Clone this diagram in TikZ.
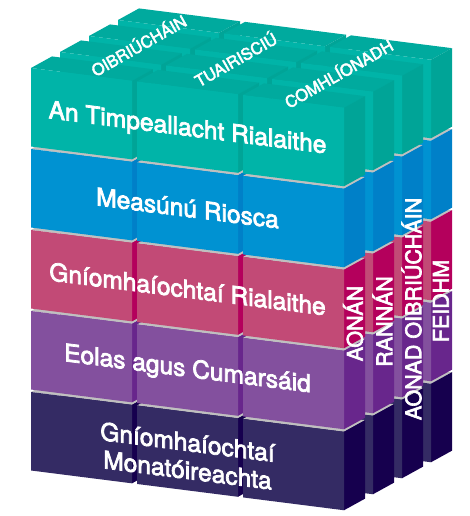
\documentclass[tikz,border=0pt]{standalone}
\usepackage{fontspec}
\setmainfont{TeX Gyre Heros}
\newfontfamily\labfont{TeX Gyre Heros}[FakeBold=3]
\definecolor{tealF}{RGB}{0,180,168}
\definecolor{tealS}{RGB}{0,164,151}
\definecolor{tealT}{RGB}{0,170,158}
\definecolor{blueF}{RGB}{0,146,210}
\definecolor{blueS}{RGB}{0,128,200}
\definecolor{pinkF}{RGB}{194,74,118}
\definecolor{pinkS}{RGB}{180,0,92}
\definecolor{purF}{RGB}{131,80,158}
\definecolor{purS}{RGB}{104,38,140}
\definecolor{navyF}{RGB}{52,43,100}
\definecolor{navyS}{RGB}{22,0,78}
\definecolor{greyT}{RGB}{192,192,192}
\begin{document}
\begin{tikzpicture}[
  frontlab/.style={text=white, font=\labfont\fontsize{24.5}{28}\selectfont, inner sep=0pt, yslant=-0.127},
  toplab/.style={text=white, font=\labfont\fontsize{16.2}{19}\selectfont, inner sep=0pt, text height=11.6pt, text depth=0pt, rotate=29.5},
  sidelab/.style={text=white, font=\labfont\fontsize{21.5}{25}\selectfont, inner sep=0pt, text height=15.4pt, text depth=0pt, rotate=90},
]
\path[use as bounding box] (0pt,0pt) rectangle (469pt,-516pt);
\begin{scope}[shift={(31pt,-68pt)}, x={(1pt,-0.127pt)}, y={(0pt,-1pt)}, z={(29pt,16pt)}]
\foreach \s in {3,2,1,0} {
  \foreach \r/\fc/\sc/\tc in {4/navyF/navyS/greyT, 3/purF/purS/greyT, 2/pinkF/pinkS/greyT, 1/blueF/blueS/greyT, 0/tealF/tealS/tealT} {
    \foreach \c in {0,1,2} {
      \pgfmathsetmacro\ua{106*\c}
      \pgfmathsetmacro\ub{106*\c+101}
      \pgfmathsetmacro\va{81*\r}
      \pgfmathsetmacro\vb{81*\r+78.5}
      \pgfmathsetmacro\wa{\s}
      \pgfmathsetmacro\wb{\s+0.724}
      \fill[\tc] (\ua,\va,\wa) -- (\ub,\va,\wa) -- (\ub,\va,\wb) -- (\ua,\va,\wb) -- cycle;
      \fill[\sc] (\ub,\va,\wa) -- (\ub,\va,\wb) -- (\ub,\vb,\wb) -- (\ub,\vb,\wa) -- cycle;
      \fill[\fc] (\ua,\va,\wa) -- (\ub,\va,\wa) -- (\ub,\vb,\wa) -- (\ua,\vb,\wa) -- cycle;
    }
  }
}
\end{scope}
% front labels
\node[frontlab, text height=17.5pt, text depth=0pt] (envtxt) at (187.5pt,-127.1pt) {An Timpeallacht Rialaithe};
\node[frontlab, text height=17.5pt, text depth=0pt] (risktxt) at (187.5pt,-208.1pt) {Measúnú Riosca};
\node[frontlab, text height=17.5pt, text depth=0pt] (ctrltxt) at (187.5pt,-289.1pt) {Gníomhaíochtaí Rialaithe};
\node[frontlab, text height=17.5pt, text depth=0pt] (infotxt) at (187.5pt,-368pt) {Eolas agus Cumarsáid};
\node[frontlab, align=center] (montxt) at (187.5pt,-456pt) {Gníomhaíochtaí\\Monatóireachta};
% top labels
\node[toplab] (opstxt) at (139pt,-46pt) {OIBRIÚCHÁIN};
\node[toplab] (reptxt) at (236pt,-60pt) {TUAIRISCIÚ};
\node[toplab] (comptxt) at (339pt,-74pt) {COMHLÍONADH};
% side labels
\node[sidelab] (ent) at (355pt,-323.5pt) {AONÁN};
\node[sidelab] (div) at (384.5pt,-321.5pt) {RANNÁN};
\node[sidelab] (opu) at (413.5pt,-309pt) {AONAD OIBRIÚCHÁIN};
\node[sidelab] (fun) at (441pt,-301pt) {FEIDHM};
\end{tikzpicture}
\end{document}
